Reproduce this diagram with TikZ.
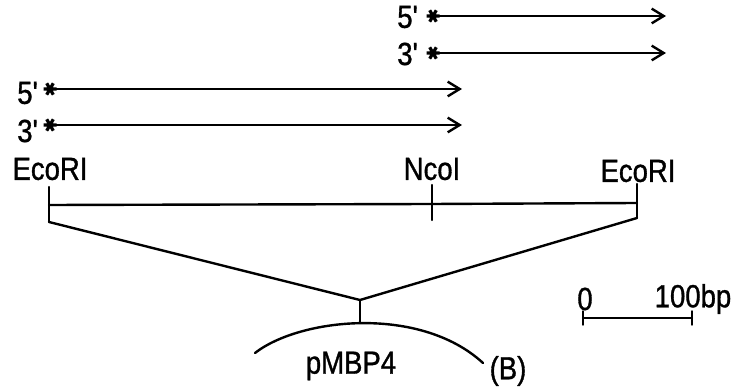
\documentclass[tikz,border=0pt]{standalone}
\usepackage{fontspec}
\setmainfont[FakeStretch=0.86,FakeBold=1]{Liberation Sans}
\usetikzlibrary{arrows.meta}
\begin{document}
\begin{tikzpicture}[x=0.75pt,y=-0.75pt,
  every node/.style={inner sep=0pt,font=\fontsize{24pt}{26pt}\selectfont},
  ln/.style={line width=1.8pt,line cap=round,line join=round},
  probe/.style={ln,-{Straight Barb[length=9pt,width=11pt,line width=1.8pt]}},
  astk/.pic={\draw[line width=2.4pt] (-6.5,0)--(6.5,0) (-3.3,-5.7)--(3.3,5.7) (-3.3,5.7)--(3.3,-5.7);}]
\useasboundingbox (0,0) rectangle (740,391);

% probes (upper pair)
\node (t5) at (408,17) {5\textquotesingle};
\node (t3) at (408,54) {3\textquotesingle};
\coordinate (t5s) at (433,16); \coordinate (t5e) at (666,16);
\coordinate (t3s) at (433,53); \coordinate (t3e) at (666,53);
\pic at (t5s) {astk}; \pic at (t3s) {astk};
\draw[probe] (t5s) -- (t5e);
\draw[probe] (t3s) -- (t3e);

% probes (lower pair)
\node (l5) at (28,93) {5\textquotesingle};
\node (l3) at (28,131) {3\textquotesingle};
\coordinate (l5s) at (50,89); \coordinate (l5e) at (462,89);
\coordinate (l3s) at (50,125); \coordinate (l3e) at (462,125);
\pic at (l5s) {astk}; \pic at (l3s) {astk};
\draw[probe] (l5s) -- (l5e);
\draw[probe] (l3s) -- (l3e);

% restriction map
\node (ecoL) at (50,169) {EcoRI};
\node (nco) at (432,169) {NcoI};
\node (ecoR) at (638,171) {EcoRI};
\coordinate (aTop) at (49,187);  \coordinate (aMid) at (49,205);  \coordinate (aBot) at (49,222);
\coordinate (bTop) at (432,185); \coordinate (bMid) at (432,204); \coordinate (bBot) at (432,220);
\coordinate (cTop) at (637,184); \coordinate (cMid) at (637,203); \coordinate (cBot) at (637,218);
\draw[ln] (aTop) -- (aBot);
\draw[ln] (bTop) -- (bBot);
\draw[ln] (cTop) -- (cBot);
\draw[ln] (aMid) -- (bMid) -- (cMid);

% insertion into the vector
\coordinate (join) at (360,300);
\coordinate (vtop) at (360,323);
\draw[ln] (aBot) -- (join) -- (cBot);
\draw[ln] (join) -- (vtop);
\draw[ln] (255,353) .. controls (300,318) and (420,305) .. (483,363);
\node (vec) at (351,366) {pMBP4};
\node (lab) at (508,371) {(B)};

% scale bar
\node (z) at (585,299) {0};
\node (hb) at (693,299) {100bp};
\coordinate (s0) at (583,318); \coordinate (s1) at (692,318);
\draw[ln] (s0) -- (s1);
\draw[ln] ([yshift=-5]s0) -- ([yshift=5]s0);
\draw[ln] ([yshift=-5]s1) -- ([yshift=5]s1);
\end{tikzpicture}
\end{document}
